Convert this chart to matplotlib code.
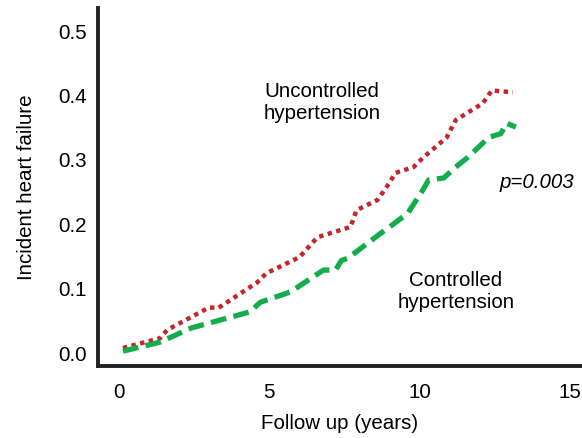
import matplotlib
matplotlib.use("Agg")
import matplotlib.pyplot as plt

plt.rcParams["font.family"] = ["Liberation Sans", "DejaVu Sans"]

# Cumulative incidence of heart failure by follow-up time (years)
t_uncontrolled = [0.13, 1.36, 1.6, 3.0, 3.3, 4.6, 4.9, 6.0, 6.6, 7.7, 7.9, 8.6, 8.9,
                  9.2, 9.8, 10.1, 10.9, 11.2, 12.1, 12.4, 13.1]
hf_uncontrolled = [0.008, 0.023, 0.036, 0.071, 0.070, 0.110, 0.124, 0.149, 0.180, 0.196,
                   0.222, 0.238, 0.258, 0.280, 0.289, 0.303, 0.335, 0.362, 0.388, 0.408, 0.405]

t_controlled = [0.13, 1.36, 2.4, 4.35, 4.7, 5.7, 6.8, 7.2, 7.4, 7.6, 8.7, 9.0, 9.6, 10.1,
                10.3, 10.8, 11.2, 11.6, 12.3, 12.7, 12.9, 13.2]
hf_controlled = [0.003, 0.017, 0.039, 0.064, 0.079, 0.095, 0.129, 0.129, 0.144, 0.147,
                 0.186, 0.196, 0.217, 0.253, 0.269, 0.272, 0.289, 0.304, 0.335, 0.341,
                 0.357, 0.351]

x_ticks = [0, 5, 10, 15]
y_ticks = [0.0, 0.1, 0.2, 0.3, 0.4, 0.5]

FS = 14.8

fig = plt.figure(figsize=(5.82, 4.38), dpi=100)
ax = fig.add_axes([98 / 582, 1 - 366 / 438, (582 - 98) / 582, (366 - 8) / 438])

ax.plot(t_uncontrolled, hf_uncontrolled, color="#C1272D", lw=3.2,
        linestyle=(0, (1.0, 1.0)), solid_capstyle="butt")
ax.plot(t_controlled, hf_controlled, color="#14AD4B", lw=3.8,
        linestyle=(0, (3.0, 1.4)))

ax.set_xlim(-0.7, 15.4)
ax.set_ylim(-0.02, 0.536)
ax.set_xticks(x_ticks)
ax.set_xticklabels([str(v) for v in x_ticks])
ax.set_yticks(y_ticks)
ax.set_yticklabels([f"{v:.1f}" for v in y_ticks])
ax.tick_params(length=0, labelsize=FS)
ax.tick_params(axis="x", pad=12)
ax.tick_params(axis="y", pad=8)

for side in ("top", "right"):
    ax.spines[side].set_visible(False)
for side in ("left", "bottom"):
    ax.spines[side].set_linewidth(2.8)
    ax.spines[side].set_color("#222222")

ax.set_xlabel("Follow up (years)", fontsize=FS, labelpad=9)
ax.set_ylabel("Incident heart failure", fontsize=FS, labelpad=16)

ax.text(6.75, 0.39, "Uncontrolled\nhypertension", fontsize=FS, ha="center",
        va="center", linespacing=1.2)
ax.text(11.2, 0.095, "Controlled\nhypertension", fontsize=FS, ha="center",
        va="center", linespacing=1.2)
ax.text(13.9, 0.265, "p=0.003", fontsize=FS, ha="center", va="center",
        style="italic")

fig.savefig("out.png", dpi=100)
